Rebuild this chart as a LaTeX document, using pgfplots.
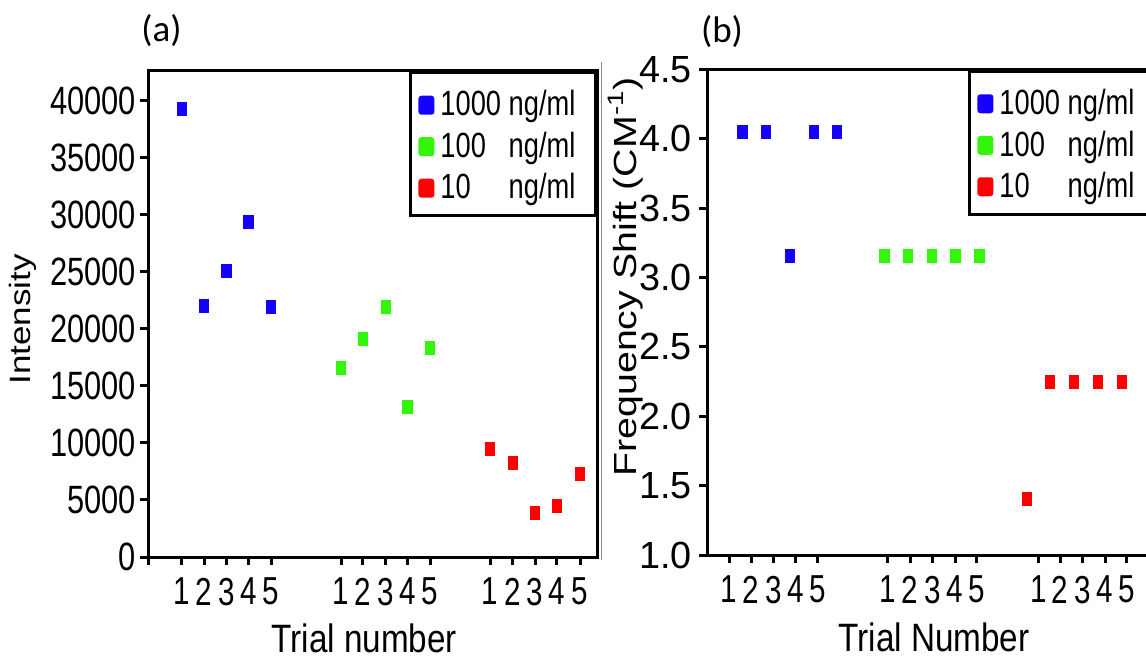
\documentclass[border=0pt]{standalone}
\usepackage{fontspec}
\setmainfont{Liberation Sans}[FakeStretch=0.78]
\newfontfamily\natfont{Liberation Sans}
\newfontfamily\lblfont{Liberation Sans}[FakeStretch=0.84]
\newfontfamily\tickfont{Liberation Sans}[FakeStretch=0.76]
\newfontfamily\carl{Carlito}
\usepackage{graphicx}
\usepackage{pgfplots}
\pgfplotsset{compat=1.18}
\definecolor{cblue}{RGB}{20,0,255}
\definecolor{cgreen}{RGB}{50,245,10}
\definecolor{cred}{RGB}{255,0,0}

\pgfplotsset{
  common/.style={
    scale only axis, width=224.5pt,
    axis line style={line width=1.5pt},
    tick style={line width=1.5pt, black},
    major tick length=4pt,
    tick align=outside,
    xtick pos=left, ytick pos=left,
    xmin=0, xmax=449,
    /pgf/number format/assume math mode=true,
    xticklabel style={font=\tickfont\fontsize{19.5}{20}\selectfont, yshift=-3pt},
    xlabel style={font=\lblfont\fontsize{19.8}{20}\selectfont, anchor=base, text depth=0pt},
    legend style={at={(1,1)}, anchor=north east, draw=black, line width=1.5pt, fill=white,
      inner xsep=4pt, inner ysep=4.75pt, row sep=0pt,
      font=\fontsize{17.5}{18}\selectfont,
      nodes={inner xsep=0pt, inner ysep=0pt, text height=17pt, text depth=3.75pt},
      /tikz/every odd column/.style={column sep=3pt}},
    legend cell align=left,
    legend image code/.code={\fill[#1, draw=none, rounded corners=1.5pt] (0pt,-6pt) rectangle (8pt,3.5pt);},
  },
  pts/.style={only marks, mark=square*, mark size=3.25pt,
    mark options={xscale=0.73, draw=none}},
}

\begin{document}
\begin{tikzpicture}
\useasboundingbox (0,0) rectangle (573pt,329.5pt);

% separator
\draw[black!45, line width=0.5pt] (300.75pt,49.5pt) -- (300.75pt,298.5pt);

% ---------------- (a) ----------------
\begin{axis}[common,
  at={(74pt,51pt)}, anchor=south west, height=243pt,
  ymin=0, ymax=42630,
  ytick={0,5000,10000,15000,20000,25000,30000,35000,40000},
  scaled y ticks=false,
  yticklabel style={font=\fontsize{19.75}{20}\selectfont, /pgf/number format/1000 sep={}, xshift=1.5pt},
  xtick={0,33.7,56,78.3,100.3,123,193,214.7,237.7,259.3,282,342,364.7,387,408.7,432},
  xticklabels={,1,2,3,4,5,1,2,3,4,5,1,2,3,4,5},
  xlabel={Trial number},
  xlabel style={at={(axis description cs:0.4815,-0.197)}},
  ylabel={\scalebox{1.19}[1]{Intensity}},
  ylabel style={font=\natfont\fontsize{14.7}{15}\selectfont, at={(axis description cs:-0.2606,0.4887)}, anchor=base},
]
\addplot[pts, color=cblue] coordinates {(33.7,39270) (56,22000) (78.3,25100) (100.3,29400) (123,21960)};
\addlegendentry{1000 ng/ml\hspace*{6pt}}
\addplot[pts, color=cgreen] coordinates {(193,16550) (214.7,19120) (237.7,21960) (259.3,13180) (282,18300)};
\addlegendentry{100\phantom{0} ng/ml\hspace*{6pt}}
\addplot[pts, color=cred] coordinates {(342,9450) (364.7,8220) (387,3890) (408.7,4500) (432,7250)};
\addlegendentry{10\phantom{00} ng/ml\hspace*{6pt}}
\end{axis}

% ---------------- (b) ----------------
\begin{axis}[common,
  at={(353.5pt,52pt)}, anchor=south west, height=242.75pt,
  ymin=1, ymax=4.5,
  ytick={1,1.5,2,2.5,3,3.5,4,4.5},
  yticklabel style={font=\natfont\fontsize{18.9}{19}\selectfont, /pgf/number format/fixed, /pgf/number format/fixed zerofill, /pgf/number format/precision=1},
  xtick={22,44,66.3,88.7,110.7,180.7,203,225.3,248,269.7,331.3,353,375.3,398,419.7},
  xticklabels={1,2,3,4,5,1,2,3,4,5,1,2,3,4,5},
  xlabel={Trial Number},
  xlabel style={at={(axis description cs:0.5056,-0.199)}},
  ylabel={\scalebox{1.23}[1]{Frequency Shift (CM\textsuperscript{-1})}},
  ylabel style={font=\natfont\fontsize{16}{16}\selectfont, at={(axis description cs:-0.157,0.573)}, anchor=base},
]
\addplot[pts, color=cblue] coordinates {(35.3,4.052) (59,4.052) (83,3.155) (106.7,4.052) (130,4.052)};
\addlegendentry{1000 ng/ml\hspace*{6pt}}
\addplot[pts, color=cgreen] coordinates {(177.3,3.155) (201,3.155) (225,3.155) (248.3,3.155) (272.3,3.155)};
\addlegendentry{100\phantom{0} ng/ml\hspace*{6pt}}
\addplot[pts, color=cred] coordinates {(319.7,1.404) (343,2.25) (367,2.25) (390.7,2.25) (414.7,2.25)};
\addlegendentry{10\phantom{00} ng/ml\hspace*{6pt}}
\end{axis}

\node[font=\carl\fontsize{18.5}{19}\selectfont] at (80.75pt,314pt) {(a)};
\node[font=\carl\fontsize{18.5}{19}\selectfont] at (361pt,313.5pt) {(b)};
\end{tikzpicture}
\end{document}
